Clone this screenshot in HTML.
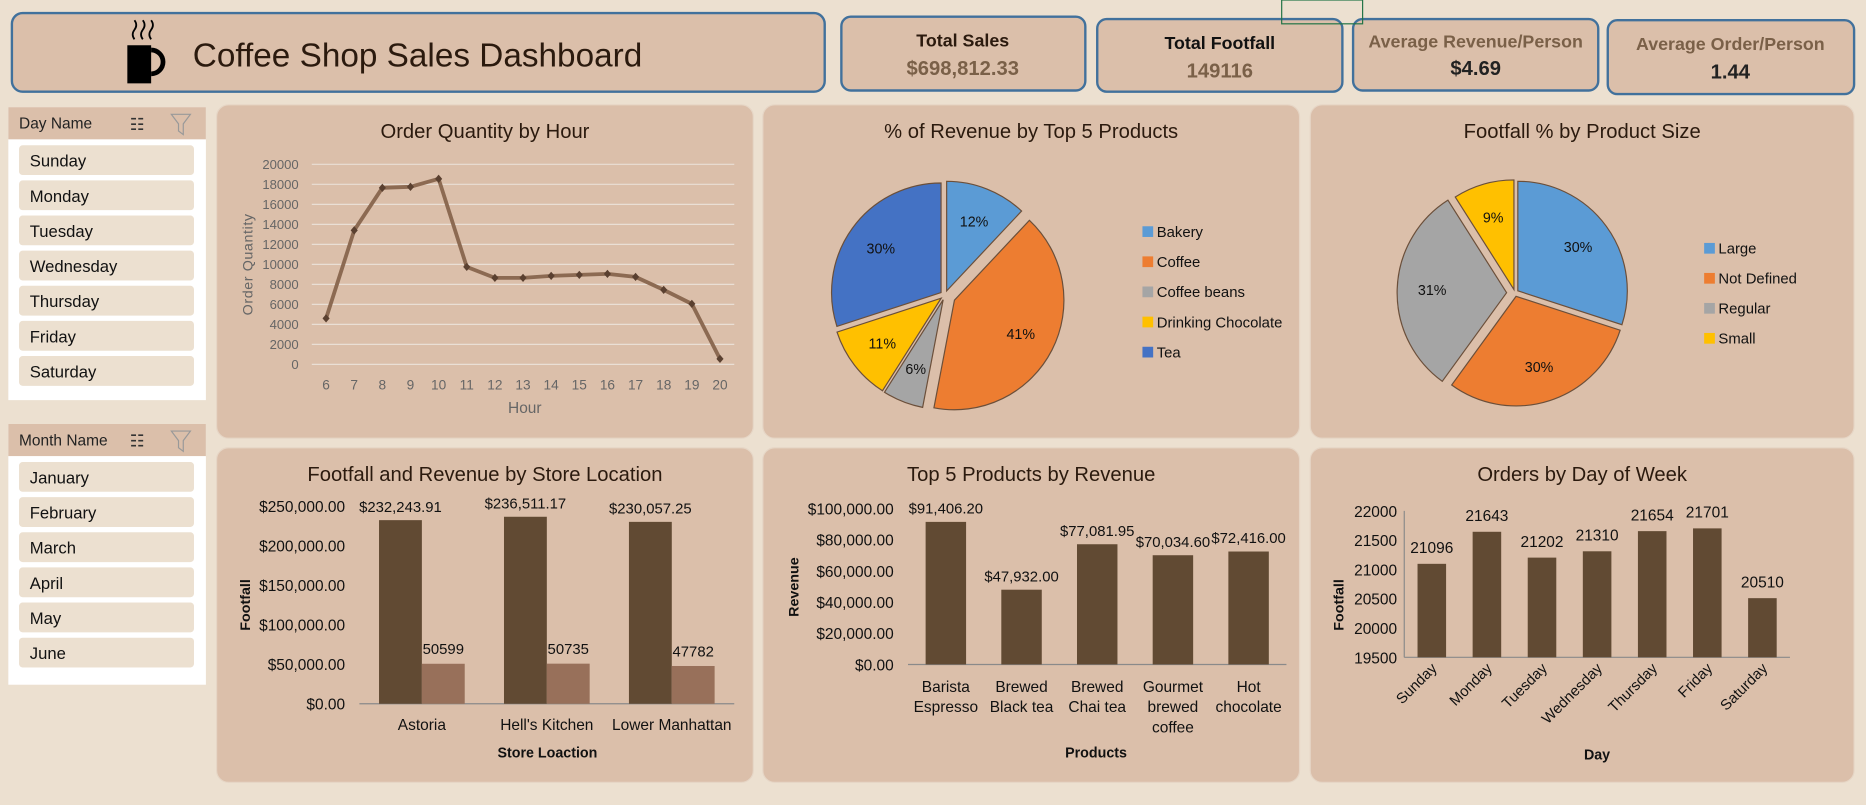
<!DOCTYPE html>
<html><head><meta charset="utf-8"><style>
html,body{margin:0;padding:0;background:#ece0d0;overflow:hidden}
svg{display:block;font-family:"Liberation Sans",sans-serif}
</style></head><body>
<svg id="s" width="1866" height="805" viewBox="0 0 1568 676" preserveAspectRatio="none">
<rect x="0" y="0" width="1568" height="676" fill="#ece0d0"/>
<g>
<rect x="10" y="11" width="683" height="66" rx="9" fill="#dbbfaa" stroke="#41719c" stroke-width="2"/>
<g>
<rect x="107" y="38" width="20" height="32" fill="#000"/>
<path d="M127 42 a9 9 0 0 1 0 20" fill="none" stroke="#000" stroke-width="4"/>
<path d="M113 33 q-3 -4 0 -8 q3 -4 0 -8 M120 33 q-3 -4 0 -8 q3 -4 0 -8 M127 33 q-3 -4 0 -8 q3 -4 0 -8" fill="none" stroke="#000" stroke-width="1.5"/>
</g>
<text x="162" y="56" font-size="28" fill="#2b1a0e">Coffee Shop Sales Dashboard</text>
</g>
<g>
<rect x="707" y="14" width="205" height="62" rx="8" fill="#dbbfaa" stroke="#41719c" stroke-width="2"/>
<text x="809" y="39" text-anchor="middle" font-size="15" font-weight="bold" fill="#2b1a0e">Total Sales</text>
<text x="809" y="63" text-anchor="middle" font-size="17" font-weight="bold" fill="#7a6048">$698,812.33</text>
</g>
<g>
<rect x="922" y="16" width="206" height="61" rx="8" fill="#dbbfaa" stroke="#41719c" stroke-width="2"/>
<text x="1025" y="41" text-anchor="middle" font-size="15" font-weight="bold" fill="#111">Total Footfall</text>
<text x="1025" y="65" text-anchor="middle" font-size="17" font-weight="bold" fill="#7a6048">149116</text>
</g>
<g>
<rect x="1137" y="16" width="206" height="60" rx="8" fill="#dbbfaa" stroke="#41719c" stroke-width="2"/>
<text x="1240" y="40" text-anchor="middle" font-size="15" font-weight="bold" fill="#7a6048">Average Revenue/Person</text>
<text x="1240" y="63" text-anchor="middle" font-size="17" font-weight="bold" fill="#222">$4.69</text>
</g>
<g>
<rect x="1351" y="17" width="207" height="62" rx="8" fill="#dbbfaa" stroke="#41719c" stroke-width="2"/>
<text x="1454" y="42" text-anchor="middle" font-size="15" font-weight="bold" fill="#7a6048">Average Order/Person</text>
<text x="1454" y="66" text-anchor="middle" font-size="17" font-weight="bold" fill="#222">1.44</text>
</g>
<rect x="1077" y="0" width="68" height="20" fill="none" stroke="#217346" stroke-width="1"/>
<g id="slicers"></g>
<g id="panels"></g>
<g id="charts"></g>
</svg>
<script>
const NS="http://www.w3.org/2000/svg";
function mk(p,tag,a,txt){const e=document.createElementNS(NS,tag);for(const k in a)e.setAttribute(k,a[k]);if(txt!==undefined)e.textContent=txt;p.appendChild(e);return e;}
const S=document.getElementById('slicers'),P=document.getElementById('panels'),C=document.getElementById('charts');

const dayItems=["Sunday","Monday","Tuesday","Wednesday","Thursday","Friday","Saturday"];
const monthItems=["January","February","March","April","May","June"];
function slicer(x,y,h,title,items,name){
  const g=mk(S,'g',{});
  
  
  mk(g,'rect',{x:x,y:y,width:166,height:h,fill:'#fff'});
  mk(g,'rect',{x:x,y:y,width:166,height:27,fill:'#dbbfaa'});
  mk(g,'text',{x:x+9,y:y+18,'font-size':13,fill:'#222'},title);
  const ic=mk(g,'text',{x:x+102,y:y+19,'font-size':14,fill:'#333'},'☷');
  
  
  const f=mk(g,'path',{d:`M${x+137} ${y+6} h16 l-6 8 v9 l-4 -3 v-6 z`,fill:'none',stroke:'#999','stroke-width':1});
  
  
  items.forEach((t,i)=>{
    const it=mk(g,'g',{});
    
    
    const yy=y+32+i*29.5;
    mk(it,'rect',{x:x+9,y:yy,width:147,height:25,rx:3,fill:'#ece0d0'});
    mk(it,'text',{x:x+18,y:yy+18,'font-size':14,fill:'#111'},t);
  });
}
slicer(7,90,246,'Day Name',dayItems,'day-name-slicer');
slicer(7,356,219,'Month Name',monthItems,'month-name-slicer');

const panelDefs=[[182,88,451,280,'Order Quantity by Hour','order-qty-panel'],[641,88,451,280,'% of Revenue by Top 5 Products','revenue-pie-panel'],[1101,88,457,280,'Footfall % by Product Size','size-pie-panel'],
[182,376,451,281,'Footfall and Revenue by Store Location','store-panel'],[641,376,451,281,'Top 5 Products by Revenue','products-panel'],[1101,376,457,281,'Orders by Day of Week','day-panel']];
panelDefs.forEach(d=>{
  const g=mk(P,'g',{});
  
  
  mk(g,'rect',{x:d[0],y:d[1],width:d[2],height:d[3],rx:10,fill:'#dbbfaa',stroke:'#e6d6c6','stroke-width':1});
  const t=mk(g,'text',{x:d[0]+d[2]/2,y:d[1]+28,'text-anchor':'middle','font-size':17,fill:'#2b1a0e'},d[4]);
  
  
});

const hours=[6,7,8,9,10,11,12,13,14,15,16,17,18,19,20];
const orderQty=[4600,13400,17650,17750,18550,9750,8650,8650,8850,8950,9050,8750,7450,6050,550];
const lineTicks=[0,2000,4000,6000,8000,10000,12000,14000,16000,18000,20000];
{
  const g=mk(C,'g',{});
  
  
  const y=v=>306-v/20000*168, x=i=>274+i*(605-274)/(hours.length-1);
  lineTicks.forEach(t=>{
    mk(g,'line',{x1:262,x2:617,y1:y(t),y2:y(t),stroke:'#eadfd5','stroke-width':1});
    mk(g,'text',{x:251,y:y(t)+4,'text-anchor':'end','font-size':11,fill:'#666'},t);
  });
  hours.forEach((h,i)=>mk(g,'text',{x:x(i),y:327,'text-anchor':'middle','font-size':11.5,fill:'#666'},h));
  const pts=orderQty.map((v,i)=>x(i)+','+y(v)).join(' ');
  const ln=mk(g,'polyline',{points:pts,fill:'none',stroke:'#8c6a52','stroke-width':3.2,'stroke-linejoin':'round'});
  
  
  orderQty.forEach((v,i)=>{
    const m=mk(g,'path',{d:`M${x(i)} ${y(v)-3.5} l3 3.5 l-3 3.5 l-3 -3.5z`,fill:'#5a4030'});
    
    
  });
  mk(g,'text',{x:441,y:347,'text-anchor':'middle','font-size':13,fill:'#666'},'Hour');
  mk(g,'text',{x:0,y:0,transform:'translate(212,222) rotate(-90)','text-anchor':'middle','font-size':12,fill:'#666','letter-spacing':'0.5'},'Order Quantity');
}

const prodNames=["Bakery","Coffee","Coffee beans","Drinking Chocolate","Tea"];
const prodShare=[12,41,6,11,30];
const sizeNames=["Large","Not Defined","Regular","Small"];
const sizeShare=[30,30,31,9];
const pie1Colors=["#5b9bd5","#ed7d31","#a5a5a5","#ffc000","#4472c4"];
const pie2Colors=["#5b9bd5","#ed7d31","#a5a5a5","#ffc000"];
function pie(cx,cy,r,names,vals,cols,explode,name,lx,ly,lstep){
  const g=mk(C,'g',{});
  
  
  const tot=vals.reduce((a,b)=>a+b,0);let a0=0;
  vals.forEach((v,i)=>{
    const a1=a0+v/tot*2*Math.PI, am=(a0+a1)/2, ex=explode[i];
    const ox=cx+ex*Math.sin(am), oy=cy-ex*Math.cos(am);
    const p=(a)=>[ox+r*Math.sin(a),oy-r*Math.cos(a)];
    const [x0,y0]=p(a0),[x1,y1]=p(a1);
    const s=mk(g,'path',{d:`M${ox} ${oy} L${x0} ${y0} A${r} ${r} 0 ${a1-a0>Math.PI?1:0} 1 ${x1} ${y1}Z`,fill:cols[i],stroke:'#6b4f3a','stroke-width':1});
    
    
    mk(g,'text',{x:ox+0.68*r*Math.sin(am),y:oy-0.68*r*Math.cos(am)+4,'text-anchor':'middle','font-size':12,fill:'#111'},Math.round(v/tot*100)+'%');
    a0=a1;
  });
  names.forEach((n,i)=>{
    const e=mk(g,'g',{});
    
    
    mk(e,'rect',{x:lx,y:ly+i*lstep-5,width:9,height:9,fill:cols[i]});
    mk(e,'text',{x:lx+12,y:ly+i*lstep+4,'font-size':12.5,fill:'#111'},n);
  });
}
pie(794,248,92,prodNames,prodShare,pie1Colors,[4,9,4,4,4],'revenue-pie-chart',960,195,25.3);
pie(1273,246,92,sizeNames,sizeShare,pie2Colors,[3,3,7,3],'size-pie-chart',1432,209,25.2);

const stores=["Astoria","Hell's Kitchen","Lower Manhattan"];
const storeRevenue=[232243.91,236511.17,230057.25];
const storeFootfall=[50599,50735,47782];
const storeTicks=[0,50000,100000,150000,200000,250000];
const money=v=>'$'+v.toLocaleString('en-US',{minimumFractionDigits:2,maximumFractionDigits:2});
{
  const g=mk(C,'g',{});
  
  
  const y=v=>591-v/250000*166, bw=105, x0=302;
  storeTicks.forEach(t=>mk(g,'text',{x:290,y:y(t)+5,'text-anchor':'end','font-size':13,fill:'#111'},money(t)));
  mk(g,'line',{x1:x0,x2:x0+bw*3,y1:591,y2:591,stroke:'#8a8a8a'});
  stores.forEach((s,i)=>{
    const c=x0+bw*(i+0.5);
    const b1=mk(g,'rect',{x:c-36,y:y(storeRevenue[i]),width:36,height:591-y(storeRevenue[i]),fill:'#614a33'});
    
    
    const b2=mk(g,'rect',{x:c,y:y(storeFootfall[i]),width:36,height:591-y(storeFootfall[i]),fill:'#98705a'});
    
    
    mk(g,'text',{x:c-18,y:y(storeRevenue[i])-7,'text-anchor':'middle','font-size':12.5,fill:'#111'},money(storeRevenue[i]));
    mk(g,'text',{x:c+18,y:y(storeFootfall[i])-8,'text-anchor':'middle','font-size':12.5,fill:'#111'},storeFootfall[i]);
    mk(g,'text',{x:c,y:613,'text-anchor':'middle','font-size':13,fill:'#111'},s);
  });
  mk(g,'text',{x:460,y:636,'text-anchor':'middle','font-size':12,'font-weight':'bold',fill:'#111'},'Store Loaction');
  mk(g,'text',{x:0,y:0,transform:'translate(210,508) rotate(-90)','text-anchor':'middle','font-size':12,'font-weight':'bold',fill:'#111'},'Footfall');
}

const products=[["Barista","Espresso"],["Brewed","Black tea"],["Brewed","Chai tea"],["Gourmet","brewed","coffee"],["Hot","chocolate"]];
const productRevenue=[91406.20,47932.00,77081.95,70034.60,72416.00];
const productTicks=[0,20000,40000,60000,80000,100000];
{
  const g=mk(C,'g',{});
  
  
  const y=v=>558-v/100000*131, bw=63.6, x0=763;
  productTicks.forEach(t=>mk(g,'text',{x:751,y:y(t)+5,'text-anchor':'end','font-size':13,fill:'#111'},money(t)));
  mk(g,'line',{x1:x0,x2:x0+bw*5,y1:558,y2:558,stroke:'#8a8a8a'});
  products.forEach((p,i)=>{
    const c=x0+bw*(i+0.5);
    const b=mk(g,'rect',{x:c-17,y:y(productRevenue[i]),width:34,height:558-y(productRevenue[i]),fill:'#614a33'});
    
    
    mk(g,'text',{x:c,y:y(productRevenue[i])-7,'text-anchor':'middle','font-size':12.5,fill:'#111'},money(productRevenue[i]));
    p.forEach((l,j)=>mk(g,'text',{x:c,y:581+j*17,'text-anchor':'middle','font-size':13,fill:'#111'},l));
  });
  mk(g,'text',{x:921,y:636,'text-anchor':'middle','font-size':12,'font-weight':'bold',fill:'#111'},'Products');
  mk(g,'text',{x:0,y:0,transform:'translate(671,493) rotate(-90)','text-anchor':'middle','font-size':12,'font-weight':'bold',fill:'#111'},'Revenue');
}

const dayNames=["Sunday","Monday","Tuesday","Wednesday","Thursday","Friday","Saturday"];
const dayOrders=[21096,21643,21202,21310,21654,21701,20510];
const dayTicks=[19500,20000,20500,21000,21500,22000];
{
  const g=mk(C,'g',{});
  
  
  const y=v=>552-(v-19500)/2500*123, bw=46.3, x0=1180;
  dayTicks.forEach(t=>mk(g,'text',{x:1174,y:y(t)+5,'text-anchor':'end','font-size':13,fill:'#111'},t));
  mk(g,'line',{x1:x0,x2:x0,y1:y(22000),y2:552,stroke:'#8a8a8a'});
  mk(g,'line',{x1:x0,x2:x0+bw*7,y1:552,y2:552,stroke:'#8a8a8a'});
  dayNames.forEach((d,i)=>{
    const c=x0+bw*(i+0.5);
    const b=mk(g,'rect',{x:c-12,y:y(dayOrders[i]),width:24,height:552-y(dayOrders[i]),fill:'#614a33'});
    
    
    mk(g,'text',{x:c,y:y(dayOrders[i])-9,'text-anchor':'middle','font-size':13,fill:'#111'},dayOrders[i]);
    mk(g,'text',{x:0,y:0,transform:`translate(${c+5},${562}) rotate(-45)`,'text-anchor':'end','font-size':12.5,fill:'#111'},d);
  });
  mk(g,'text',{x:1342,y:638,'text-anchor':'middle','font-size':12,'font-weight':'bold',fill:'#111'},'Day');
  mk(g,'text',{x:0,y:0,transform:'translate(1129,508) rotate(-90)','text-anchor':'middle','font-size':12,'font-weight':'bold',fill:'#111'},'Footfall');
}
</script>
</body></html>
